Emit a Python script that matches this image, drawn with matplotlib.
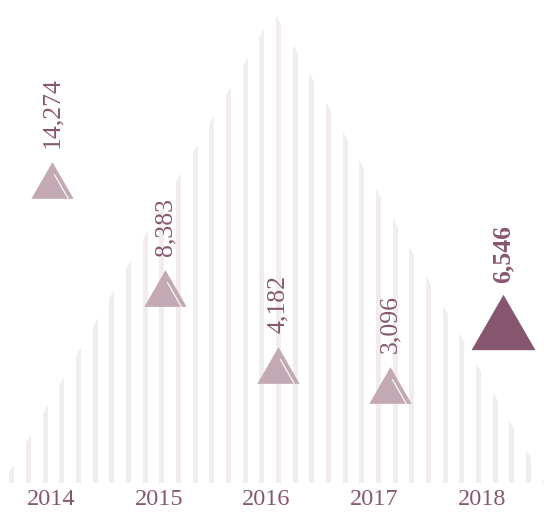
import numpy as np
import matplotlib
matplotlib.use('Agg')
from matplotlib import pyplot as plt
from matplotlib.path import Path
from matplotlib.patches import Polygon, Rectangle

# datos
years = ['2014', '2015', '2016', '2017', '2018']
values = [14274, 8383, 4182, 3096, 6546]
highlight = 4  # ultimo año resaltado

light = '#c3a9b4'
dark = '#85566d'
text_col = '#86586f'
stripe_col = '#f2eced'

plt.rcParams['font.family'] = ['Liberation Serif', 'DejaVu Serif']

fig = plt.figure(figsize=(5.44, 5.12), dpi=100)
ax = fig.add_axes([0, 29 / 512, 1, 483 / 512])
ax.set_xlim(-0.466, 4.365)
ax.set_ylim(-2240, 24120)

# fondo: triangulo de franjas verticales
tri = Polygon([(3 / 544, 0), (274 / 544, 0.975), (545 / 544, 0)], closed=True,
              transform=ax.transAxes, facecolor='none', edgecolor='none')
ax.add_patch(tri)
for k in range(33):
    cx = (11.7 + 16.67 * k) / 544
    r = Rectangle((cx - 2.5 / 544, 0), 5 / 544, 1, transform=ax.transAxes,
                  facecolor=stripe_col, edgecolor='none', zorder=0)
    ax.add_patch(r)
    r.set_clip_path(tri)

# marcador triangulo equilatero
h = np.sqrt(3) / 2
tri_marker = Path([(0, h), (-1, -h), (1, -h), (0, h)],
                  [Path.MOVETO, Path.LINETO, Path.LINETO, Path.CLOSEPOLY])
shine = Path([(1, -h), (0.08, 0.30), (0.75, -h)],
             [Path.MOVETO, Path.MOVETO, Path.LINETO])

x = np.arange(len(years))
for i, v in enumerate(values):
    if i == highlight:
        ms, col, gap, fw = 46, dark, 8, 'bold'
    else:
        ms, col, gap, fw = 30.5, light, 10, 'normal'
    ax.plot([x[i]], [v], marker=tri_marker, markersize=ms, color=col,
            markeredgewidth=0, linestyle='none', zorder=3)
    if i != highlight:
        ax.plot([x[i]], [v], marker=shine, markersize=ms, markerfacecolor='none',
                markeredgecolor='white', markeredgewidth=0.8, linestyle='none', zorder=4)
    ax.annotate(f'{v:,}', xy=(x[i], v), xytext=(0, ms * h / 2 + gap),
                textcoords='offset points', rotation=90, ha='center', va='bottom',
                fontsize=18.5, color=text_col, fontweight=fw)

for s in ax.spines.values():
    s.set_visible(False)
ax.set_xticks([])
ax.set_yticks([])

# etiquetas de años (escala un poco distinta a los marcadores)
sec = ax.secondary_xaxis('bottom', functions=(lambda i: 0.01391 + 1.04453 * i,
                                              lambda j: (j - 0.01391) / 1.04453))
sec.set_xticks(range(len(years)))
sec.set_xticklabels(years)
sec.tick_params(length=0, pad=4, labelsize=17.5, labelcolor=text_col)
sec.spines['bottom'].set_visible(False)

fig.savefig('out.png', dpi=100, facecolor='white')
